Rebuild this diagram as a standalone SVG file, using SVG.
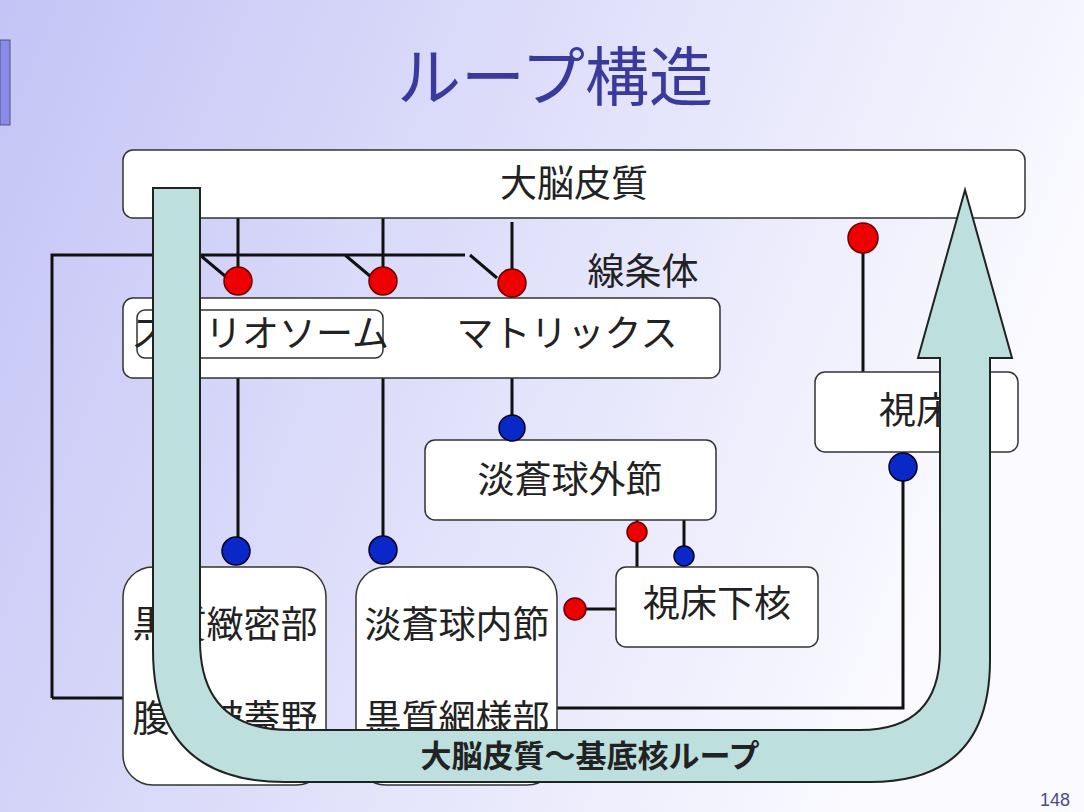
<svg xmlns="http://www.w3.org/2000/svg" width="1084" height="812" viewBox="0 0 1084 812">
<defs>
<linearGradient id="bg" x1="0" y1="0" x2="1" y2="0.3">
<stop offset="0" stop-color="#c4c4f6"/><stop offset="1" stop-color="#fafaff"/>
</linearGradient>
<style>
.box{fill:#fff;stroke:#333;stroke-width:1.5}
.t{font-family:"Noto Sans CJK JP",sans-serif;font-size:37px;fill:#222;text-anchor:middle}
.ln{stroke:#111;stroke-width:3;fill:none}
.r{fill:#e00;stroke:#600;stroke-width:1.5}
.b{fill:#0a28c8;stroke:#002;stroke-width:1.5}
</style>
</defs>
<rect width="1084" height="812" fill="url(#bg)"/>
<rect x="0" y="40" width="10" height="85" fill="#8a8ae8" stroke="#557" stroke-width="1"/>
<text x="555" y="100" font-family="Noto Sans CJK JP,sans-serif" font-size="64" fill="#3a3a9c" text-anchor="middle">ループ構造</text>
<text x="1055" y="806" font-family="Liberation Sans,sans-serif" font-size="18" fill="#4a4a8a" text-anchor="middle">148</text>

<g id="connectors">
<path class="ln" d="M238,218V280M383,218V280M512,222V282M52,698V255H465M200,255L225,276M345,255L370,276M470,255L497,278"/>
<path class="ln" d="M52,698H123"/>
<path class="ln" d="M238,378V551M383,378V550M512,378V428"/>
<path class="ln" d="M637,520V567M684,520V556M575,609H616"/>
<path class="ln" d="M557,708H903V467M863,238V372"/>
</g>

<g id="cortex"><rect class="box" x="123" y="150" width="902" height="68" rx="10"/><text class="t" x="574" y="197">大脳皮質</text></g>
<g id="striatum-label"><text class="t" x="643" y="285">線条体</text></g>
<g id="striatum"><rect class="box" x="123" y="298" width="597" height="80" rx="10"/>
<rect class="box" x="137" y="310" width="246" height="48" rx="8"/>
<text class="t" x="260" y="347" font-size="33">ストリオソーム</text>
<text class="t" x="567" y="347" font-size="33">マトリックス</text></g>
<g id="gpe"><rect class="box" x="425" y="440" width="291" height="80" rx="10"/><text class="t" x="570" y="493">淡蒼球外節</text></g>
<g id="stn"><rect class="box" x="616" y="567" width="202" height="80" rx="10"/><text class="t" x="717" y="617">視床下核</text></g>
<g id="thalamus"><rect class="box" x="815" y="372" width="203" height="80" rx="10"/><text class="t" x="916" y="424">視床</text></g>
<g id="snc"><rect class="box" x="123" y="567" width="203" height="218" rx="30"/><text class="t" x="225" y="638">黒質緻密部</text><text class="t" x="225" y="732">腹側被蓋野</text></g>
<g id="gpi"><rect class="box" x="356" y="567" width="201" height="218" rx="30"/><text class="t" x="457" y="638">淡蒼球内節</text><text class="t" x="457" y="732">黒質網様部</text></g>

<g id="dots">
<circle class="r" cx="238" cy="281" r="14"/><circle class="r" cx="383" cy="281" r="14"/><circle class="r" cx="512" cy="283" r="14"/>
<circle class="r" cx="863" cy="238" r="15"/>
<circle class="b" cx="236" cy="551" r="14"/><circle class="b" cx="383" cy="550" r="14"/><circle class="b" cx="512" cy="428" r="13"/>
<circle class="b" cx="903" cy="467" r="14"/>
<circle class="r" cx="637" cy="532" r="10"/><circle class="b" cx="684" cy="556" r="10"/>
<circle class="r" cx="575" cy="609" r="11"/>
</g>

<g id="loop">
<path d="M153,188L153,650Q153,782 285,782L870,782Q990,782 990,660L990,358L1012,358L965,190L918,358L940,358L940,650Q940,730 860,730L290,730Q200,730 200,640L200,188Z" fill="#bde0df" stroke="#222" stroke-width="2"/>
<text x="590" y="767" font-family="Noto Sans CJK JP,sans-serif" font-size="31" font-weight="bold" fill="#222" text-anchor="middle">大脳皮質～基底核ループ</text>
</g>
</svg>
